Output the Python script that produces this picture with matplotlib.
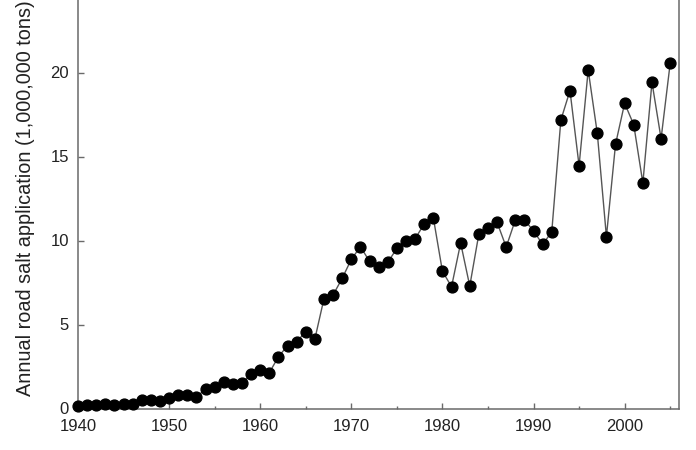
import matplotlib
matplotlib.use("Agg")
import matplotlib.pyplot as plt
from matplotlib.ticker import MultipleLocator

plt.rcParams["font.family"] = ["Liberation Sans", "DejaVu Sans"]

# --- data ---
years = list(range(1940, 2006))
salt = [
    0.15, 0.19, 0.19, 0.29, 0.19, 0.29, 0.29, 0.50, 0.50, 0.46,   # 1940s
    0.64, 0.82, 0.82, 0.70, 1.14, 1.30, 1.56, 1.46, 1.50, 2.04,   # 1950s
    2.27, 2.13, 3.08, 3.74, 3.98, 4.57, 4.14, 6.54, 6.76, 7.75,   # 1960s
    8.88, 9.63, 8.76, 8.42, 8.70, 9.53, 9.99, 10.11, 10.98, 11.36,  # 1970s
    8.17, 7.25, 9.85, 7.29, 10.39, 10.76, 11.08, 9.61, 11.22, 11.22,  # 1980s
    10.57, 9.77, 10.51, 17.17, 18.92, 14.45, 20.15, 16.38, 10.23, 15.73,  # 1990s
    18.17, 16.89, 13.42, 19.42, 16.06, 20.55,                     # 2000s
]
y_ticks = [0, 5, 10, 15, 20]
x_ticks = [1940, 1950, 1960, 1970, 1980, 1990, 2000]
y_label = "Annual road salt application (1,000,000 tons)"

SPINE = "#6a6a6a"
TEXT = "#222222"

fig = plt.figure(figsize=(6.96, 4.5), dpi=100, facecolor="white")
# axes top runs slightly past the figure edge, as in the cropped original
ax = fig.add_axes([78 / 696, 41.5 / 450, 601.3 / 696, 420 / 450])

ax.plot(years, salt, color="#555555", lw=1.0, zorder=2)
ax.plot(years, salt, "o", color="black", ms=7.8, zorder=3, clip_on=False)

ax.set_xlim(1940, 2006)
ax.set_ylim(0, 25)
ax.set_xticks(x_ticks)
ax.xaxis.set_minor_locator(MultipleLocator(5))
ax.set_yticks(y_ticks)

for spine in ax.spines.values():
    spine.set_color(SPINE)
    spine.set_linewidth(1.1)

ax.tick_params(axis="both", which="major", direction="in", length=4,
               width=1.0, color=SPINE, labelsize=12, labelcolor=TEXT)
ax.tick_params(axis="x", which="minor", direction="in", length=2.4,
               width=1.0, color=SPINE)
ax.tick_params(axis="x", which="major", pad=7.5)
ax.tick_params(axis="y", which="major", pad=6.5)

ax.set_ylabel(y_label, fontsize=14.3, color=TEXT)
ax.yaxis.set_label_coords(-0.0715, 0.5)

fig.savefig("out.png", dpi=100, facecolor="white")
plt.close(fig)
